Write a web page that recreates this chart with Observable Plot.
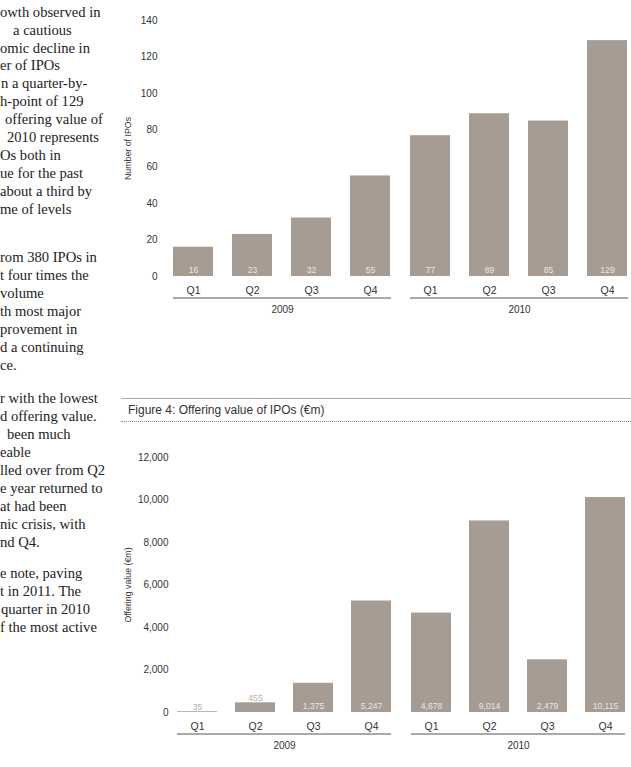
<!DOCTYPE html>
<html>
<head>
<meta charset="utf-8">
<script src="https://cdn.jsdelivr.net/npm/d3@7"></script>
<script src="https://cdn.jsdelivr.net/npm/@observablehq/plot@0.6"></script>
<style>
  html, body { margin: 0; padding: 0; background: #fff; }
  body { width: 631px; height: 767px; position: relative; overflow: hidden;
         font-family: "Liberation Sans", Arial, Helvetica, sans-serif; }
  #body-text { position: absolute; left: 0; top: 0; width: 110px; height: 767px; overflow: hidden;
               font-family: "Liberation Serif", "Times New Roman", serif; font-size: 14.6px; color: #222; }
  #body-text div { position: absolute; white-space: nowrap; line-height: 18px; }
  #chart1 { position: absolute; left: 110px; top: 0; }
  #fig4-head { position: absolute; left: 121px; top: 398px; width: 510px; height: 22px;
               border-top: 1px solid #a8a8a8; border-bottom: 1px dotted #8f8f8f; }
  #fig4-head span { position: absolute; left: 7px; top: 5px; font-size: 12px; line-height: 13px; color: #333; }
  #chart2 { position: absolute; left: 110px; top: 430px; }
</style>
</head>
<body>
<div id="body-text"></div>
<div id="chart1"></div>
<div id="fig4-head"><span>Figure 4: Offering value of IPOs (€m)</span></div>
<div id="chart2"></div>
<script>
// Quarterly IPO activity, 2009–2010
const years = ["2009", "2010"];
const quarters = ["Q1", "Q2", "Q3", "Q4"];
const ipoCount2009 = [16, 23, 32, 55];
const ipoCount2010 = [77, 89, 85, 129];
const offeringValue2009 = [35, 455, 1375, 5247];
const offeringValue2010 = [4678, 9014, 2479, 10115];
const countTicks = [0, 20, 40, 60, 80, 100, 120, 140];
const valueTicks = [0, 2000, 4000, 6000, 8000, 10000, 12000];

// Visible part of the report's running text column: [text, left, line centre]
const bodyLines = [
  ["owth observed in", 0, 13], ["a cautious", 13, 31], ["omic decline in", 0, 49],
  ["er of IPOs", 0, 66.5], ["n a quarter-by-", 1, 84.5], ["h-point of 129", 0, 102.5],
  ["offering value of", 5, 120.5], ["2010 represents", 7, 138.5], ["Os both in", 0, 156.5],
  ["ue for the past", 0, 174.5], ["about a third by", 0, 192.5], ["me of levels", 0, 210.5],
  ["rom 380 IPOs in", 0, 258.5], ["t four times the", 0, 276.5], ["volume", 0, 294.5],
  ["th most major", 0, 312.5], ["provement in", 0, 330.5], ["d a continuing", 0, 348.5],
  ["ce.", 0, 366.5],
  ["r with the lowest", 0, 399], ["d offering value.", 0, 417], ["been much", 7, 435],
  ["eable", 0, 453], ["lled over from Q2", 0, 471], ["e year returned to", 0, 489],
  ["at had been", 0, 507], ["nic crisis, with", 0, 525], ["nd Q4.", 0, 543],
  ["e note, paving", 0, 574], ["t in 2011. The", 0, 592], ["quarter in 2010", 1, 610],
  ["f the most active", 0, 628]
];
const textCol = document.getElementById("body-text");
for (const [t, x, y] of bodyLines) {
  const d = document.createElement("div");
  d.textContent = t;
  d.style.left = x + "px";
  d.style.top = (y - 10.5) + "px";
  textCol.appendChild(d);
}

function rowsOf(a2009, a2010) {
  return [
    ...quarters.map((q, i) => ({year: "2009", quarter: q, value: a2009[i]})),
    ...quarters.map((q, i) => ({year: "2010", quarter: q, value: a2010[i]}))
  ];
}
const fmt = d3.format(",");
const barFill = "#a69c93";
const font = "Liberation Sans, Arial, Helvetica, sans-serif";

function quarterlyBars({rows, domain, ticks, title, height, marginLeft, marginRight, marginTop, marginBottom,
                        tickPadding, labelOffset, fxPad, xPad, small}) {
  const inside = rows.filter(d => d.value >= small);
  const above = rows.filter(d => d.value < small);
  return Plot.plot({
    width: 521,
    height,
    marginLeft, marginRight, marginTop, marginBottom,
    style: {fontFamily: font, color: "#333", background: "transparent", overflow: "visible"},
    fx: {domain: years, paddingInner: fxPad, paddingOuter: 0},
    x: {domain: quarters, paddingInner: xPad, paddingOuter: 0},
    y: {domain},
    marks: [
      Plot.axisY(ticks, {tickSize: 0, tickPadding, fontSize: 10, tickFormat: fmt, label: null}),
      Plot.axisY([], {tickSize: 0, fontSize: 8.8, label: title, labelAnchor: "center", labelOffset, labelArrow: "none"}),
      Plot.axisX({tickSize: 0, tickPadding: 10, fontSize: 10.5, label: null}),
      Plot.axisFx({anchor: "bottom", tickSize: 0, tickPadding: 29.5, fontSize: 10, label: null}),
      Plot.ruleY([0], {dy: 21.5, stroke: "#555", strokeWidth: 1}),
      Plot.barY(rows, {fx: "year", x: "quarter", y: "value", fill: barFill}),
      Plot.text(inside, {fx: "year", x: "quarter", y: 0, text: d => fmt(d.value), dy: -6,
                         fill: "#ece7e2", fontSize: 8.6}),
      Plot.text(above, {fx: "year", x: "quarter", y: "value", text: d => fmt(d.value), dy: -4.5,
                        fill: "#b6aea7", fontSize: 8.6})
    ]
  });
}

document.getElementById("chart1").append(quarterlyBars({
  rows: rowsOf(ipoCount2009, ipoCount2010),
  domain: [0, 140], ticks: countTicks, title: "Number of IPOs",
  height: 320, marginLeft: 63, marginRight: 2, marginTop: 20, marginBottom: 44,
  tickPadding: 16, labelOffset: 48.5, fxPad: 0.08, xPad: 0.32, small: 0
}));

document.getElementById("chart2").append(quarterlyBars({
  rows: rowsOf(offeringValue2009, offeringValue2010),
  domain: [0, 12000], ticks: valueTicks, title: "Offering value (€m)",
  height: 330, marginLeft: 66, marginRight: 5, marginTop: 27, marginBottom: 48,
  tickPadding: 9, labelOffset: 52.5, fxPad: 0.085, xPad: 0.315, small: 1000
}));
</script>
</body>
</html>
